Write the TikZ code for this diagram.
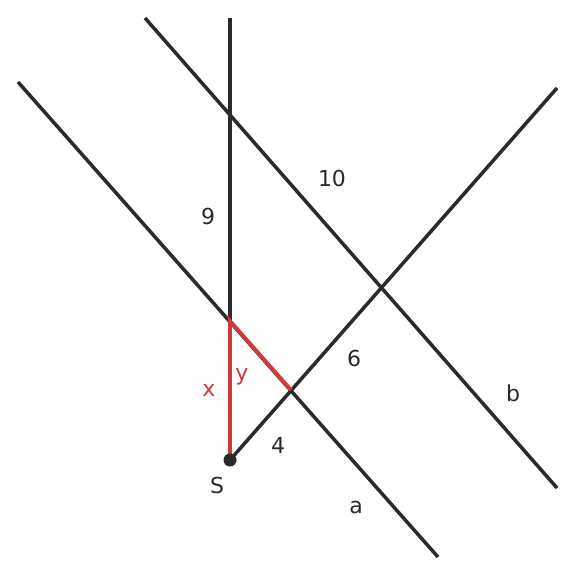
\documentclass[tikz,border=0pt]{standalone}
\usepackage{fontspec}
\setmainfont{DejaVu Sans}
\usetikzlibrary{positioning}
\definecolor{lineblack}{HTML}{2A2A2C}
\definecolor{linered}{HTML}{D03A3A}
\tikzset{
	myline/.style={draw=lineblack,line width=3.5pt},
	myred/.style={draw=linered,line width=3.8pt},
	mylabel/.style={text=lineblack,font=\fontsize{22}{26}\selectfont,inner sep=0pt},
	myredlabel/.style={text=linered,font=\fontsize{22}{26}\selectfont,inner sep=0pt}
}

\begin{document}
\begin{tikzpicture}[x=1pt,y=-1pt]
		\useasboundingbox (0,0) rectangle (576,576);
		% points
		\coordinate (S) at (230,460);
		\coordinate (top) at (230,18);
		\coordinate (A) at (230,321);
		\coordinate (B) at (291,390);
		\coordinate (ray) at (557,88);
		\coordinate (astart) at (18,82);
		\coordinate (aend) at (438,557);
		\coordinate (bstart) at (145,18);
		\coordinate (bend) at (557,488);
		% lines
		\draw[myline] (astart) -- (aend);
		\draw[myline] (bstart) -- (bend);
		\draw[myline] (A) -- (top);
		\draw[myline] (S) -- (ray);
		\draw[myred] (S) -- (A) -- (B);
		\fill[lineblack] (S) circle (6.5);
		% labels
		\node[mylabel](nine) at (208,216){9};
		\node[mylabel](ten) at (332,178){10};
		\node[mylabel](six) at (354,358){6};
		\node[mylabel](four) at (278,445){4};
		\node[mylabel](labS) at (217,485){S};
		\node[mylabel](laba) at (356,507){a};
		\node[mylabel](labb) at (513,393){b};
		\node[myredlabel](labx) at (209,390){x};
		\node[myredlabel](laby) at (242,377){y};
	\end{tikzpicture}
\end{document}
